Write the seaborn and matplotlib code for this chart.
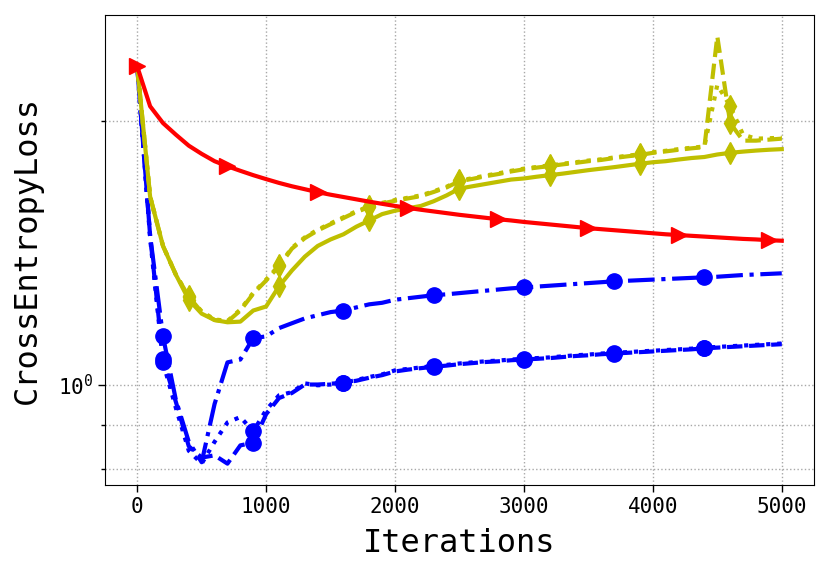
import numpy as np
import pandas as pd
import matplotlib
matplotlib.use("Agg")
import matplotlib.pyplot as plt
import seaborn as sns
from matplotlib.ticker import NullFormatter

# итерации (шаг 100)
iters = np.arange(0, 5001, 100)

# синие кривые
blue_dashdot = [2.31, 1.48, 1.135, 0.96, 0.86, 0.815, 0.95, 1.06, 1.068, 1.13,
                1.135, 1.16, 1.175, 1.19, 1.20, 1.21, 1.215, 1.225, 1.235, 1.24,
                1.25, 1.255, 1.26, 1.265, 1.268, 1.272, 1.276, 1.28, 1.284, 1.288,
                1.291, 1.294, 1.297, 1.30, 1.303, 1.306, 1.309, 1.312, 1.314, 1.316,
                1.318, 1.32, 1.322, 1.324, 1.326, 1.328, 1.331, 1.334, 1.336, 1.338, 1.34]
blue_dashed = [2.31, 1.48, 1.07, 0.955, 0.85, 0.825, 0.83, 0.812, 0.852, 0.858,
               0.925, 0.965, 0.978, 1.0, 1.0, 1.002, 1.005, 1.01, 1.018, 1.025,
               1.035, 1.04, 1.044, 1.048, 1.051, 1.055, 1.058, 1.061, 1.063, 1.066,
               1.068, 1.07, 1.072, 1.075, 1.078, 1.08, 1.083, 1.085, 1.087, 1.089,
               1.091, 1.093, 1.095, 1.097, 1.10, 1.102, 1.104, 1.106, 1.108, 1.11, 1.112]
blue_dotted = [2.31, 1.47, 1.06, 0.94, 0.84, 0.812, 0.86, 0.905, 0.918, 0.884,
               0.935, 0.972, 0.98, 1.003, 0.998, 1.0, 1.004, 1.012, 1.02, 1.027,
               1.038, 1.042, 1.046, 1.05, 1.053, 1.057, 1.06, 1.063, 1.065, 1.068,
               1.07, 1.072, 1.074, 1.077, 1.08, 1.082, 1.085, 1.087, 1.089, 1.091,
               1.093, 1.095, 1.097, 1.099, 1.102, 1.104, 1.106, 1.108, 1.11, 1.112, 1.114]

# жёлтые кривые
yellow_solid = [2.31, 1.64, 1.44, 1.335, 1.25, 1.205, 1.185, 1.178, 1.18, 1.215,
                1.228, 1.295, 1.35, 1.40, 1.44, 1.465, 1.485, 1.515, 1.54, 1.566,
                1.58, 1.59, 1.60, 1.62, 1.645, 1.675, 1.685, 1.695, 1.705, 1.715,
                1.72, 1.728, 1.735, 1.742, 1.75, 1.758, 1.765, 1.772, 1.78, 1.788,
                1.795, 1.80, 1.808, 1.815, 1.82, 1.832, 1.84, 1.846, 1.851, 1.855, 1.858]
yellow_dashed = [2.31, 1.64, 1.44, 1.335, 1.26, 1.21, 1.185, 1.18, 1.215, 1.27,
                 1.315, 1.365, 1.43, 1.47, 1.50, 1.525, 1.55, 1.575, 1.595, 1.61,
                 1.622, 1.632, 1.642, 1.66, 1.68, 1.708, 1.718, 1.73, 1.74, 1.752,
                 1.762, 1.77, 1.777, 1.785, 1.792, 1.80, 1.806, 1.815, 1.823, 1.83,
                 1.84, 1.847, 1.855, 1.862, 1.868, 2.5, 1.99, 1.90, 1.90, 1.905, 1.91]
yellow_dotted = [2.31, 1.64, 1.44, 1.335, 1.262, 1.212, 1.187, 1.182, 1.218, 1.273,
                 1.318, 1.368, 1.433, 1.473, 1.503, 1.528, 1.553, 1.578, 1.598, 1.613,
                 1.625, 1.635, 1.645, 1.663, 1.683, 1.711, 1.721, 1.733, 1.743, 1.755,
                 1.765, 1.773, 1.78, 1.788, 1.795, 1.803, 1.809, 1.818, 1.826, 1.833,
                 1.843, 1.85, 1.858, 1.865, 1.871, 2.2, 2.08, 1.93, 1.91, 1.912, 1.915]

# красная кривая
red_solid = [2.31, 2.08, 1.99, 1.93, 1.875, 1.835, 1.80, 1.776, 1.755, 1.735,
             1.717, 1.70, 1.685, 1.672, 1.659, 1.648, 1.638, 1.628, 1.618, 1.609,
             1.60, 1.592, 1.584, 1.577, 1.570, 1.563, 1.557, 1.551, 1.545, 1.540,
             1.534, 1.529, 1.524, 1.519, 1.514, 1.509, 1.505, 1.501, 1.497, 1.493,
             1.489, 1.485, 1.482, 1.479, 1.476, 1.473, 1.470, 1.467, 1.465, 1.462, 1.46]

plt.rcParams['font.family'] = ['DejaVu Sans Mono']

fig, ax = plt.subplots(figsize=(8.3, 5.75), dpi=100)
fig.subplots_adjust(left=0.1265, right=0.9807, top=0.9739, bottom=0.1565)

# (значения, цвет, стиль линии, маркер, смещение маркеров)
series = [
    (blue_dashdot, 'b', '-.', 'o', 2),
    (blue_dashed, 'b', '--', 'o', 2),
    (blue_dotted, 'b', ':', 'o', 2),
    (yellow_solid, 'y', '-', 'd', 4),
    (yellow_dashed, 'y', '--', 'd', 4),
    (yellow_dotted, 'y', ':', 'd', 4),
    (red_solid, 'r', '-', '>', 0),
]

for vals, color, ls, mk, start in series:
    df = pd.DataFrame({'Iterations': iters, 'loss': vals})
    sns.lineplot(data=df, x='Iterations', y='loss', ax=ax, color=color,
                 linestyle=ls, lw=3, marker=mk, markersize=11,
                 markevery=(start, 7), markeredgecolor=color,
                 markeredgewidth=1, errorbar=None)

ax.set_yscale('log')
ax.yaxis.set_minor_formatter(NullFormatter())
ax.grid(True, which='both', linestyle=':', color='#a8a8a8', lw=1)
ax.tick_params(axis='both', which='major', labelsize=15, length=5, width=1)
ax.tick_params(axis='both', which='minor', length=3, width=1)

ax.set_xlabel('Iterations', fontsize=23, labelpad=8)
ax.set_ylabel('CrossEntropyLoss', fontsize=23, labelpad=11)

fig.savefig('out.png', dpi=100)
